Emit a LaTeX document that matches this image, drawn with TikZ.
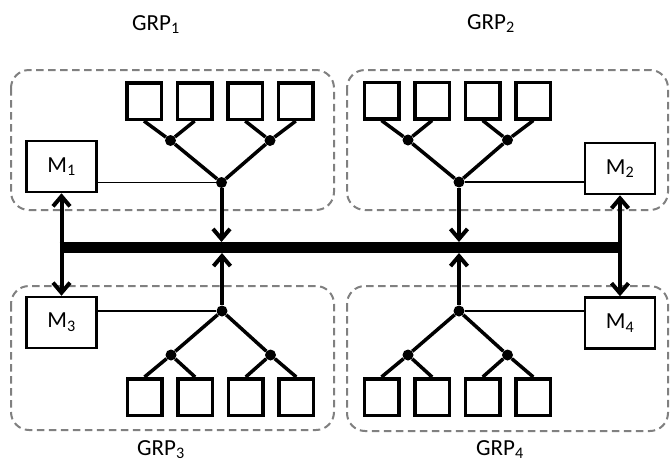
\documentclass[tikz,border=0pt]{standalone}
\usepackage{fontspec}
\setmainfont{Carlito}
\usepackage{tikz}
\usetikzlibrary{arrows.meta,calc,positioning}
\tikzset{
    >={Straight Barb[length=10pt,width=17pt]},
    group/.style={
        draw=black!50,
        line width=2pt,
        dash pattern=on 7.5pt off 4.5pt,
        rounded corners=18pt
    },
    leaf/.style={
        rectangle,
        draw, line width=3.5pt,
        minimum width=34.5pt,
        minimum height=36.5pt,
        inner sep=0pt
    },
    mem/.style={
        rectangle,
        draw, line width=2.5pt,
        minimum width=70pt,
        minimum height=51pt,
        inner sep=0pt
    },
    dot/.style={circle, fill, inner sep=0pt, minimum size=11pt},
    branch/.style={draw, line width=3.5pt},
    link/.style={draw, line width=1.2pt},
    access/.style={draw, line width=4pt, ->},
    bus/.style={draw, line width=11pt},
    font={\fontsize{23pt}{27}\selectfont},
}

\begin{document}
\begin{tikzpicture}[x=1pt, y=-1pt]
\useasboundingbox (0,0) rectangle (670,464);

\foreach \xa/\ya/\xb/\yb in {11/70/334/210, 347/70/668/210, 11/286/334/430, 347/286/668/431}
  \draw [group] (\xa,\ya) rectangle (\xb,\yb);

\foreach \g/\rx/\ry/\fy/\sy/\a in {1/221.5/182.5/-42/-81.5/south, 2/459/182/-42/-81.5/south,
    3/222/311/44/86/north, 4/459/311/44/86/north} {
  \node [dot] (root-\g) at (\rx,\ry) {};
  \node [dot] (fork-\g-1) at (\rx-51,\ry+\fy) {};
  \node [dot] (fork-\g-2) at (\rx+48.5,\ry+\fy) {};
  \foreach \i in {1,...,4}
    \node [leaf] (leaf-\g-\i) at (\rx-128.1+50.6*\i,\ry+\sy) {};
  \draw [branch] (leaf-\g-1.\a) -- (fork-\g-1) -- (leaf-\g-2.\a);
  \draw [branch] (leaf-\g-3.\a) -- (fork-\g-2) -- (leaf-\g-4.\a);
  \draw [branch] (fork-\g-1) -- (root-\g) -- (fork-\g-2);
}

\foreach \g/\x/\y in {1/61.5/166.5, 2/620/168.5, 3/61.5/322.5, 4/620/323}
  \node [mem] (mem-\g) at (\x,\y) {M\textsubscript{\g}};

\foreach \g/\s in {1/east, 2/west, 3/east, 4/west}
  \draw [link] (root-\g) -- (mem-\g.\s |- root-\g);

\coordinate (bus-w) at (59.5,247.5);
\coordinate (bus-e) at (622,247.5);
\coordinate (bus-top) at (0,242);
\coordinate (bus-bot) at (0,253);
\draw [bus] (bus-w) -- (bus-e);

\draw [access, <->] (mem-1.south) -- (mem-3.north);
\draw [access, <->] (mem-2.south) -- (mem-4.north);

\foreach \g in {1,2}
  \draw [access] (root-\g) -- (root-\g |- bus-top);
\foreach \g in {3,4}
  \draw [access] (root-\g) -- (root-\g |- bus-bot);

\foreach \g/\x/\y in {1/156/30, 2/491/29, 3/161/455, 4/500/455}
  \node [anchor=base] (label-\g) at (\x,\y) {GRP\textsubscript{\g}};

\end{tikzpicture}
\end{document}
